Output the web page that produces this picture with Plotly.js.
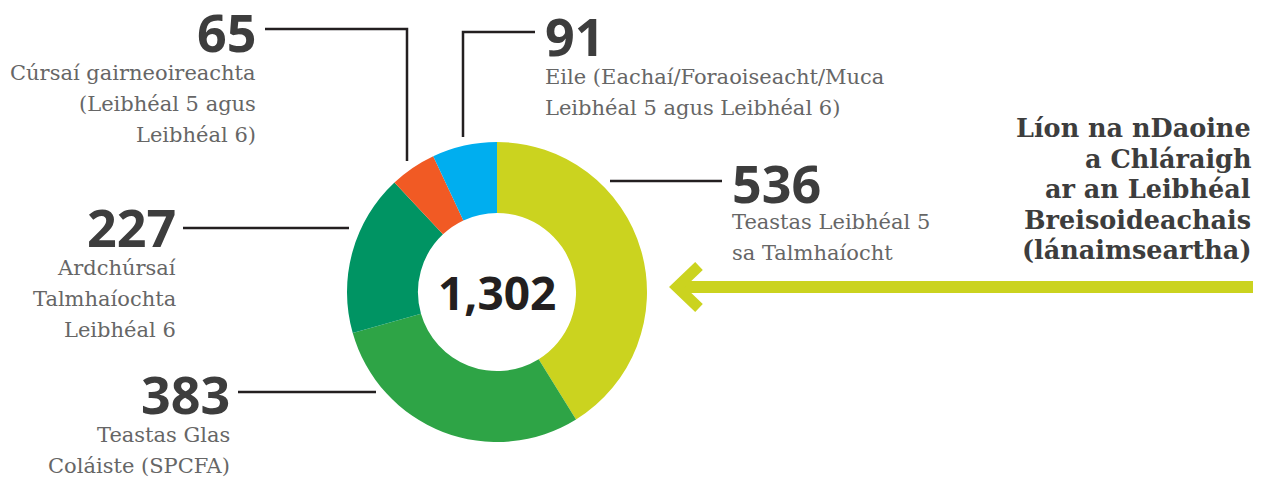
<!DOCTYPE html>
<html>
<head>
<meta charset="utf-8">
<script src="https://cdn.plot.ly/plotly-3.0.1.min.js"></script>
<style>html,body{margin:0;padding:0;background:#fff;}#chart{width:1268px;height:483px;}</style>
</head>
<body>
<div id="chart"></div>
<script>
// Data
const categories = [
  "Teastas Leibhéal 5<br>sa Talmhaíocht",
  "Teastas Glas<br>Coláiste (SPCFA)",
  "Ardchúrsaí<br>Talmhaíochta<br>Leibhéal 6",
  "Cúrsaí gairneoireachta<br>(Leibhéal 5 agus<br>Leibhéal 6)",
  "Eile (Eachaí/Foraoiseacht/Muca<br>Leibhéal 5 agus Leibhéal 6)"
];
const values = [536, 383, 227, 65, 91];
const colors = ["#cbd31f", "#2ea446", "#009463", "#f15a24", "#00aeef"];
const totalLabel = "1,302";
const titleLines = ["Líon na nDaoine", "a Chláraigh", "ar an Leibhéal", "Breisoideachais", "(lánaimseartha)"];

// Label placement (pixel layout)
const labelPos = [
  {x: 730, numY: 182, txtY: 222, anchor: "left"},
  {x: 232, numY: 393, txtY: 435, anchor: "right"},
  {x: 178, numY: 226, txtY: 268, anchor: "right"},
  {x: 258, numY: 31,  txtY: 73,  anchor: "right"},
  {x: 543, numY: 35,  txtY: 77,  anchor: "left"}
];
const leaders = [
  [[610,181],[722,181]],
  [[238,392],[376,392]],
  [[183,228],[349,228]],
  [[265,29],[407,29],[407,161]],
  [[463,137],[463,32],[535,32]]
];

const W = 1268, H = 483;
const annotations = [];
const shapes = [];
const lineH = 31;
const numFont = {family: "Open Sans, sans-serif", size: 52, color: "#3d3d3d", weight: 800};
const txtFont = {family: "DejaVu Serif, serif", size: 21, color: "#666666"};

values.forEach((v, i) => {
  const p = labelPos[i];
  annotations.push({xref: "x", yref: "y", x: p.x, y: p.numY, text: "<b>" + v + "</b>",
    showarrow: false, xanchor: p.anchor, yanchor: "middle", height: 44, valign: "middle",
    font: numFont});
  categories[i].split("<br>").forEach((ln, k) => {
    annotations.push({xref: "x", yref: "y", x: p.x, y: p.txtY + k * lineH, text: ln,
      showarrow: false, xanchor: p.anchor, yanchor: "middle", font: txtFont});
  });
  const pts = leaders[i];
  let path = "M " + pts.map(q => q[0] + " " + q[1]).join(" L ");
  shapes.push({type: "path", xref: "x", yref: "y", path: path, line: {color: "#231f20", width: 2.5}});
});

titleLines.forEach((ln, k) => {
  annotations.push({xref: "x", yref: "y", x: 1253, y: 128 + k * 30.5, text: "<b>" + ln + "</b>",
    showarrow: false, xanchor: "right", yanchor: "middle",
    font: {family: "DejaVu Serif, serif", size: 25.5, color: "#3d3d3d"}});
});

annotations.push({xref: "x", yref: "y", x: 497, y: 292, text: "<b>" + totalLabel + "</b>",
  showarrow: false, xanchor: "center", yanchor: "middle",
  font: {family: "Open Sans, sans-serif", size: 46, color: "#231f20"}});

// Arrow
shapes.push({type: "rect", xref: "x", yref: "y", x0: 684, x1: 1253, y0: 281, y1: 293,
  fillcolor: "#cbd31f", line: {width: 0}});
shapes.push({type: "path", xref: "x", yref: "y", path: "M 699 266 L 677 287 L 699 308",
  line: {color: "#cbd31f", width: 11}});

const trace = {
  type: "pie", values: values, labels: categories, marker: {colors: colors, line: {width: 0}},
  hole: 0.527, sort: false, direction: "clockwise", rotation: 0,
  textinfo: "none", hoverinfo: "skip", showlegend: false,
  domain: {x: [347 / W, 647 / W], y: [(H - 442) / H, (H - 142) / H]}
};

const layout = {
  width: W, height: H, margin: {l: 0, r: 0, t: 0, b: 0},
  paper_bgcolor: "#fff", plot_bgcolor: "rgba(0,0,0,0)",
  xaxis: {range: [0, W], visible: false, fixedrange: true},
  yaxis: {range: [H, 0], visible: false, fixedrange: true},
  showlegend: false, annotations: annotations, shapes: shapes
};
Plotly.newPlot("chart", [trace], layout, {staticPlot: true, displayModeBar: false});
</script>
</body>
</html>
